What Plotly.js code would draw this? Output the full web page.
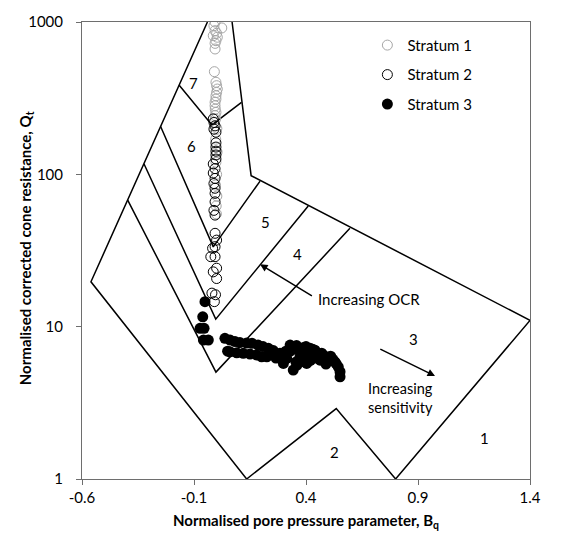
<!DOCTYPE html>
<html>
<head>
<meta charset="utf-8">
<script src="https://cdn.plot.ly/plotly-3.0.1.min.js"></script>
<style>html,body{margin:0;padding:0;background:#fff;}#chart{width:570px;height:546px;}</style>
</head>
<body>
<div id="chart"></div>
<script>
// ---- Axis ticks ----
const xTickVals = [-0.6, -0.1, 0.4, 0.9, 1.4];
const xTickText = ["-0.6", "-0.1", "0.4", "0.9", "1.4"];
const yTickVals = [1, 10, 100, 1000];
const yTickText = ["1", "10", "100", "1000"];

// ---- Zone boundaries (Robertson Bq - Qt chart) ----
const outerX = [-0.04, -0.56, 0.135, 0.535, 0.80, 1.40, 0.155, 0.07];
const outerY = [1000, 19.7, 1, 2.9, 1, 11, 98, 1000];
const b76X = [-0.166, -0.02, 0.112];
const b76Y = [385, 211, 297];
const b65X = [-0.249, -0.014, 0.195];
const b65Y = [206, 33.4, 90.3];
const b54X = [-0.323, -0.003, 0.41];
const b54Y = [117, 11.2, 62];
const b43X = [-0.396, -0.002, 0.596];
const b43Y = [67.7, 5.03, 44.2];

// ---- Zone labels ----
const zoneNames = ["7", "6", "5", "4", "3", "2", "1"];
const zoneX = [-0.104, -0.113, 0.221, 0.364, 0.882, 0.529, 1.199];
const zoneY = [397, 153, 48.6, 30, 8.3, 1.5, 1.86];

// ---- Stratum 1 (grey open circles) ----
const s1Bq = [-0.006, -0.011, 0.024, -0.006, 0.001, -0.014, 0.004, -0.002, -0.006, -0.006,
              -0.009, -0.002, 0.001, 0.004, 0.001, -0.002, -0.002, -0.006, -0.006, -0.005,
              -0.002, -0.006, -0.004, 0.002, -0.003, 0.003, -0.002, 0.001, -0.004, 0.002, -0.001, 0.0];
const s1Qt = [1000, 945, 914, 877, 843, 813, 794, 754, 724, 665,
              472, 402, 382, 363, 345, 328, 312, 297, 282, 268,
              255, 243, 230, 200, 170, 140, 120, 100, 85, 72, 62, 55];

// ---- Stratum 2 (black open circles) ----
const s2Bq = [-0.014, -0.011, -0.006, -0.011, -0.002, -0.002, -0.002, -0.002, -0.002, -0.002,
              -0.014, -0.006, -0.014, -0.006, -0.011, -0.006, -0.006, -0.006, -0.011, -0.006,
              -0.006, 0.001, -0.006, -0.017, -0.025, -0.006, 0.001, -0.014, 0.001, -0.020, -0.009, -0.004];
const s2Qt = [231, 219, 208, 198, 189, 161, 151, 142, 134, 126,
              117, 109, 102, 94, 87, 81, 75, 66, 58, 54,
              41, 37, 33.5, 32.7, 28.8, 28.8, 24.2, 22.9, 20.7, 16.6, 14.6, 16.2];

// ---- Stratum 3 (black filled circles) ----
const s3Bq = [-0.051, -0.061, -0.073, -0.055, -0.058, -0.036, 0.038, 0.061, 0.083, 0.105,
              0.135, 0.159, 0.186, 0.208, 0.061, 0.091, 0.120, 0.150, 0.180, 0.202,
              0.232, 0.254, 0.284, 0.314, 0.343, 0.329, 0.358, 0.388, 0.418, 0.433,
              0.448, 0.477, 0.507, 0.529, 0.544, 0.552, 0.552, 0.403, 0.373, 0.299,
              0.225, 0.266, 0.463, 0.489, 0.355, 0.44, 0.47, 0.50, 0.52, 0.41,
              0.33, 0.39, 0.46, 0.36, 0.24, 0.05, 0.34, 0.37, 0.40, 0.43, 0.45,
              0.49, 0.51, 0.535, 0.31, 0.28, 0.42, 0.38];
const s3Qt = [14.6, 11.6, 9.75, 9.75, 8.17, 8.17, 8.38, 8.17, 7.98, 7.86,
              7.80, 7.77, 7.57, 7.40, 6.84, 6.74, 6.68, 6.61, 6.51, 6.34,
              7.21, 6.97, 6.68, 6.19, 5.19, 7.57, 7.51, 6.84, 7.21, 6.84,
              6.34, 6.51, 6.03, 5.88, 5.45, 5.06, 4.69, 5.74, 6.34, 5.74,
              6.34, 6.22, 6.03, 5.68, 5.86, 7.0, 6.7, 6.3, 6.1, 6.6,
              6.9, 7.3, 6.1, 5.6, 6.9, 6.9, 7.1, 7.0, 7.4, 7.1, 6.5,
              6.2, 6.4, 5.7, 6.9, 6.4, 6.0, 5.9];

const lineStyle = {color: "#000", width: 1.5};
const boundaries = [[outerX, outerY], [b76X, b76Y], [b65X, b65Y], [b54X, b54Y], [b43X, b43Y]];
const traces = boundaries.map(b => ({
  x: b[0], y: b[1], mode: "lines", type: "scatter",
  line: lineStyle, showlegend: false, hoverinfo: "skip"
}));

traces.push({
  x: s1Bq, y: s1Qt, mode: "markers", type: "scatter", name: "Stratum 1", legendgroup: "a",
  marker: {symbol: "circle-open", size: 10, color: "#a6a6a6", line: {width: 1}}
});
traces.push({
  x: s2Bq, y: s2Qt, mode: "markers", type: "scatter", name: "Stratum 2", legendgroup: "b",
  marker: {symbol: "circle-open", size: 10, color: "#000", line: {width: 1}}
});
traces.push({
  x: s3Bq, y: s3Qt, mode: "markers", type: "scatter", name: "Stratum 3", legendgroup: "c",
  marker: {symbol: "circle", size: 11, color: "#000"}
});

const font = "Lato, 'Open Sans', sans-serif";
const annotations = zoneNames.map((t, i) => ({
  x: zoneX[i], y: Math.log10(zoneY[i]), text: t, showarrow: false,
  font: {family: font, size: 15, color: "#000"}
}));
// OCR arrow
annotations.push({
  x: 0.195, y: 1.409, ax: 0.433, ay: 1.196, axref: "x", ayref: "y",
  text: "", showarrow: true, arrowhead: 2, arrowsize: 1, arrowwidth: 1.5, arrowcolor: "#000"
});
annotations.push({
  x: 0.443, y: 1.182, text: "Increasing OCR", showarrow: false, xanchor: "left",
  font: {family: font, size: 15, color: "#000"}
});
// Sensitivity arrow
annotations.push({
  x: 0.976, y: 0.676, ax: 0.725, ay: 0.857, axref: "x", ayref: "y",
  text: "", showarrow: true, arrowhead: 2, arrowsize: 1, arrowwidth: 1.5, arrowcolor: "#000"
});
annotations.push({
  x: 0.82, y: 0.531, text: "Increasing<br>sensitivity", showarrow: false,
  font: {family: font, size: 14.5, color: "#000"}
});
// Y axis title
annotations.push({
  xref: "paper", yref: "paper", x: -0.125, y: 0.505, xanchor: "center", yanchor: "middle",
  textangle: -90, showarrow: false,
  text: "<b>Normalised corrected cone resistance, Q<sub>t</sub></b>",
  font: {family: font, size: 15, color: "#000"}
});

const layout = {
  width: 570, height: 546,
  margin: {l: 82, r: 40, t: 22, b: 67},
  paper_bgcolor: "#fff", plot_bgcolor: "#fff",
  font: {family: font, size: 15, color: "#000"},
  showlegend: true,
  legend: {
    x: 0.637, y: 0.985, xanchor: "left", yanchor: "top",
    font: {family: font, size: 15, color: "#000"},
    traceorder: "grouped", tracegroupgap: 7, bgcolor: "rgba(0,0,0,0)",
    itemwidth: 30
  },
  xaxis: {
    range: [-0.6, 1.4], tickvals: xTickVals, ticktext: xTickText,
    showgrid: false, zeroline: false,
    showline: true, linecolor: "#6e6e6e", linewidth: 1, mirror: true,
    ticks: "outside", ticklen: 5, tickcolor: "#6e6e6e",
    tickfont: {family: font, size: 15, color: "#000"},
    title: {text: "<b>Normalised pore pressure parameter, B<sub>q</sub></b>",
            font: {family: font, size: 15, color: "#000"}, standoff: 10}
  },
  yaxis: {
    type: "log", range: [0, 3], tickvals: yTickVals, ticktext: yTickText,
    showgrid: false, zeroline: false,
    showline: true, linecolor: "#6e6e6e", linewidth: 1, mirror: true,
    ticks: "outside", ticklen: 5, tickcolor: "#6e6e6e", ticklabelstandoff: 10,
    tickfont: {family: font, size: 15, color: "#000"}
  },
  annotations: annotations
};

Plotly.newPlot("chart", traces, layout, {displayModeBar: false, staticPlot: true});
</script>
</body>
</html>
